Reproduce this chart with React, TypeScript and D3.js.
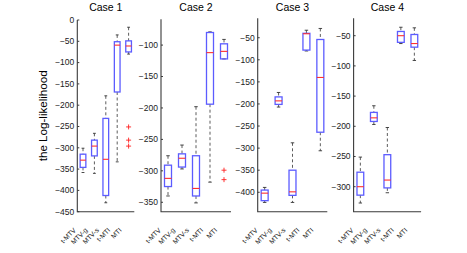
import * as d3 from 'd3';

const methods = ['t-MTV', 'MTV-g', 'MTV-s', 't-MTI', 'MTI'];
const caseNames = ['Case 1', 'Case 2', 'Case 3', 'Case 4'];

// each row: [lower whisker, q1, median, q3, upper whisker]
const case1Stats = [
  [-358, -346, -329, -315, -301],
  [-360, -319, -296, -282, -266],
  [-429, -412, -327, -231, -178],
  [-333, -169, -59, -51, -35],
  [-80, -75, -61, -49, -17],
];
const case1Outliers = [[], [], [], [], [-251, -282, -296]];
const case1Ticks = [0, -50, -100, -150, -200, -250, -300, -350, -400, -450];

const case2Stats = [
  [-340, -325, -312, -291, -276],
  [-297, -294, -280, -273, -259],
  [-351, -340, -328, -276, -198],
  [-318, -194, -112, -80, -79],
  [-122, -122, -110, -98, -91],
];
const case2Outliers = [[], [], [], [], [-299, -314]];
const case2Ticks = [-100, -150, -200, -250, -300, -350];

const case3Stats = [
  [-423, -419, -402, -395, -389],
  [-207, -201, -193, -184, -174],
  [-423, -407, -399, -350, -288],
  [-80, -78, -41, -40, -33],
  [-306, -264, -140, -54, -29],
];
const case3Outliers = [[], [], [], [], []];
const case3Ticks = [-50, -100, -150, -200, -250, -300, -350, -400];

const case4Stats = [
  [-327, -314, -300, -276, -251],
  [-197, -192, -186, -177, -166],
  [-310, -302, -289, -247, -202],
  [-63, -61, -50, -43, -36],
  [-91, -69, -63, -48, -37],
];
const case4Outliers = [[], [], [], [], []];
const case4Ticks = [-50, -100, -150, -200, -250, -300];

const allStats = [case1Stats, case2Stats, case3Stats, case4Stats];
const allOutliers = [case1Outliers, case2Outliers, case3Outliers, case4Outliers];
const allTicks = [case1Ticks, case2Ticks, case3Ticks, case4Ticks];

// axes layout (pixels) and y limits
const panels = [
  { left: 77.3, right: 134.3, top: 20, ymin: -450, ymax: 0 },
  { left: 161, right: 231, top: 19.3, ymin: -365, ymax: -59 },
  { left: 257.7, right: 327.3, top: 18.3, ymin: -444, ymax: -6 },
  { left: 353.6, right: 421.1, top: 18.3, ymin: -341.4, ymax: -21.2 },
];
const bottom = 211.7;

const font = 'Liberation Sans, Arial, sans-serif';
const boxColor = '#5c5cff';
const fmt = d3.format('d');

function Panel({ idx }: { idx: number }) {
  const p = panels[idx];
  const stats = allStats[idx];
  const outliers = allOutliers[idx];
  const ticks = allTicks[idx];

  const x = d3.scaleLinear().domain([0.5, 5.5]).range([p.left, p.right]);
  const y = d3.scaleLinear().domain([p.ymin, p.ymax]).range([bottom, p.top]);
  const unit = x(2) - x(1);
  const bw = unit * 0.25;
  const cw = unit * 0.125;

  return (
    <g>
      <text
        x={(p.left + p.right) / 2}
        y={10.7}
        textAnchor="middle"
        fontSize={10.5}
        fontFamily={font}
        fill="#000"
      >
        {caseNames[idx]}
      </text>
      {/* axes */}
      <path
        d={`M${p.left},${p.top}V${bottom}H${p.right}`}
        fill="none"
        stroke="#3a3a3a"
        strokeWidth={1.1}
      />
      {ticks.map((t) => (
        <g key={t}>
          <line x1={p.left} x2={p.left + 2} y1={y(t)} y2={y(t)} stroke="#3a3a3a" strokeWidth={1} />
          <text
            x={p.left - 3}
            y={y(t)}
            dy="0.34em"
            textAnchor="end"
            fontSize={8.5}
            fontFamily={font}
            fill="#222"
          >
            {fmt(t)}
          </text>
        </g>
      ))}
      {methods.map((m, i) => (
        <text
          key={m}
          transform={`translate(${x(i + 1) - 6.5},${bottom + 19}) rotate(-45)`}
          textAnchor="end"
          fontSize={6.8}
          fontFamily={font}
          fill="#222"
        >
          {m}
        </text>
      ))}
      {stats.map((s, i) => {
        const cx = x(i + 1);
        const [lo, q1, med, q3, hi] = s;
        return (
          <g key={i}>
            <line x1={cx} x2={cx} y1={y(hi)} y2={y(q3)} stroke="#333" strokeWidth={0.8} strokeDasharray="3,2.5" />
            <line x1={cx} x2={cx} y1={y(q1)} y2={y(lo)} stroke="#333" strokeWidth={0.8} strokeDasharray="3,2.5" />
            <line x1={cx - cw} x2={cx + cw} y1={y(hi)} y2={y(hi)} stroke="#333" strokeWidth={0.9} />
            <line x1={cx - cw} x2={cx + cw} y1={y(lo)} y2={y(lo)} stroke="#333" strokeWidth={0.9} />
            <rect
              x={cx - bw}
              y={y(q3)}
              width={bw * 2}
              height={Math.max(y(q1) - y(q3), 0.5)}
              fill="none"
              stroke={boxColor}
              strokeWidth={1.3}
            />
            <line x1={cx - bw} x2={cx + bw} y1={y(med)} y2={y(med)} stroke="#ff3030" strokeWidth={1.1} />
            {outliers[i].map((o, k) => (
              <path
                key={k}
                d={`M${cx - 2.5},${y(o)}H${cx + 2.5}M${cx},${y(o) - 2.5}V${y(o) + 2.5}`}
                stroke="#ff2020"
                strokeWidth={0.9}
                fill="none"
              />
            ))}
          </g>
        );
      })}
    </g>
  );
}

export default function App() {
  return (
    <svg
      width={467}
      height={253}
      style={{ position: 'absolute', left: 0, top: 0, background: '#fff' }}
    >
      <rect width={467} height={253} fill="#fff" />
      <text
        transform="translate(47,115.8) rotate(-90)"
        textAnchor="middle"
        fontSize={11.6}
        fontFamily={font}
        fill="#000"
      >
        the Log-likelihood
      </text>
      {panels.map((_, i) => (
        <Panel key={i} idx={i} />
      ))}
    </svg>
  );
}
